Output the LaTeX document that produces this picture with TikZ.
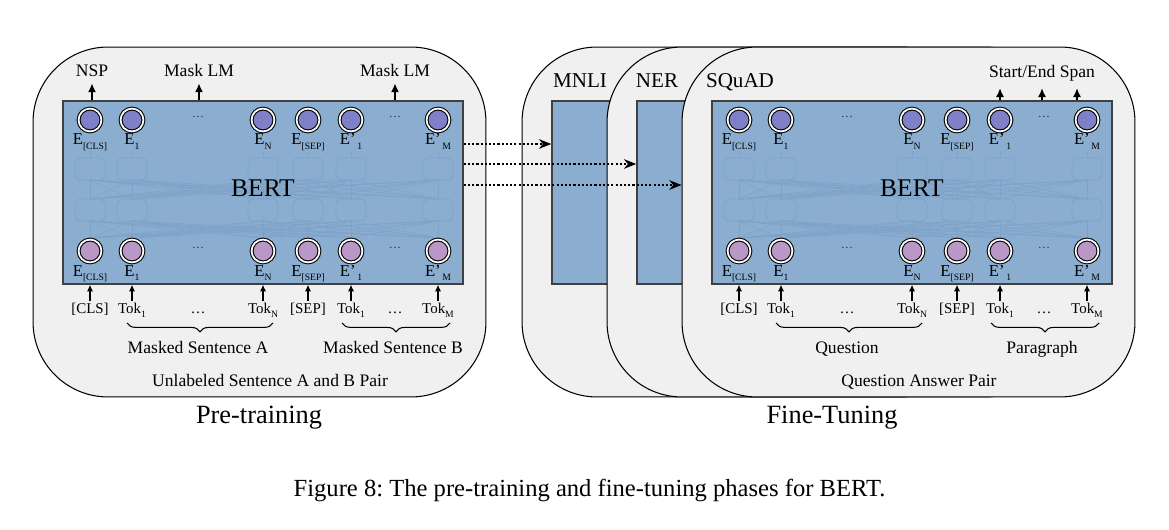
\documentclass[tikz,border=0pt]{standalone}
\usepackage{fontspec}
\setmainfont{Liberation Serif}
\usetikzlibrary{arrows.meta,decorations.pathreplacing,positioning}

\definecolor{panelgray}{RGB}{240,240,240}
\definecolor{bertblue}{RGB}{139,174,208}
\definecolor{faintblue}{RGB}{127,163,200}
\definecolor{outpurple}{RGB}{128,128,200}
\definecolor{inlilac}{RGB}{185,152,200}
\definecolor{boxedge}{RGB}{64,64,64}

% lowered small index, as in E_[CLS]
\newcommand{\lo}[1]{\raisebox{-0.6ex}{\fontsize{5.5}{6}\selectfont #1}}

\tikzset{
  panel/.style={draw=black, fill=panelgray, line width=0.6pt, rounded corners=1.5cm,
    minimum width=9.06cm, minimum height=7cm, inner sep=0pt},
  bertbox/.style={draw=boxedge, fill=bertblue, line width=0.9pt, minimum height=3.66cm, inner sep=0pt},
  ghost/.style={draw=faintblue, line width=0.5pt, rounded corners=3pt},
  ghostline/.style={draw=faintblue, line width=0.35pt},
  emb/.style={circle, draw=black, double=white, double distance=1pt, line width=0.6pt,
    minimum size=13pt, inner sep=0pt, fill=#1},
  elab/.style={font=\fontsize{9.5}{11}\selectfont, anchor=base, inner sep=1pt},
  toklab/.style={font=\fontsize{8.5}{10}\selectfont, anchor=base, inner sep=1pt},
  dotlab/.style={font=\fontsize{7}{8}\selectfont, text=black!80},
  lbl/.style={font=\fontsize{10}{12}\selectfont, anchor=base},
  ttl/.style={font=\fontsize{12}{14}\selectfont, anchor=base},
  outarrow/.style={-{Latex[length=5pt,width=4.6pt]}, line width=0.85pt},
  inarrow/.style={-{Latex[length=3.8pt,width=3.6pt]}, line width=0.65pt},
  xfer/.style={-{Stealth[length=7pt,width=5.5pt]}, line width=0.8pt, dash pattern=on 1.2pt off 1.2pt},
  brace/.style={decorate, decoration={brace, mirror, amplitude=5pt}, line width=0.6pt},
}

\begin{document}
\frenchspacing
\begin{tikzpicture}[x=0.02cm, y=-0.02cm]
  \useasboundingbox (0,0) rectangle (1169,530);

  % panels, back to front
  \node[panel] (pt-panel) at (259.5,222) {};
  \node[panel] (mnli-panel) at (748.5,222) {};
  \node[bertbox, minimum width=1.8cm] (mnli-box) at (597,192.5) {};
  \node[panel] (ner-panel) at (833.5,222) {};
  \node[bertbox, minimum width=1.8cm] (ner-box) at (682,192.5) {};
  \node[panel] (sq-panel) at (908.5,222) {};

  \node[ttl] (mnli) at (580,88) {MNLI};
  \node[ttl] (ner) at (657,88) {NER};
  \node[ttl] (squad) at (740,88) {SQuAD};

  % the two BERT blocks
  \foreach \p/\ox/\ba/\bb/\pair in {pt/63/{Masked Sentence A}/{Masked Sentence B}/{Unlabeled Sentence A and B Pair},
                                    ft/712/{Question}/{Paragraph}/{Question Answer Pair}} {
    \node[bertbox, minimum width=8cm] (\p-box) at (\ox+200,192.5) {};
    \foreach \a in {27,69,200,245,288,375} {
      \draw[ghostline] (\ox+\a,151) -- (\ox+\a,158);
      \draw[ghost] (\ox+\a-15,158) rectangle (\ox+\a+15,180);
      \draw[ghost] (\ox+\a-15,199) rectangle (\ox+\a+15,221);
      \foreach \b in {27,69,200,245,288,375} {
        \draw[ghostline] (\ox+\a,180) -- (\ox+\b,199);
        \draw[ghostline] (\ox+\a,221) -- (\ox+\b,238);
      }
    }
    \node[font=\fontsize{14.5}{16}\selectfont] (\p-name) at (\ox+200,188) {BERT};
    \foreach \c/\dx/\el/\tk in {1/27/{E\lo{[CLS]}}/{[CLS]}, 2/69/{E\lo{1}}/{Tok\lo{1}},
                                3/200/{E\lo{N}}/{Tok\lo{N}}, 4/245/{E\lo{[SEP]}}/{[SEP]},
                                5/288/{E'\lo{\,1}}/{Tok\lo{1}}, 6/375/{E'\lo{\,M}}/{Tok\lo{M}}} {
      \node[emb=outpurple] (\p-o\c) at (\ox+\dx,120) {};
      \node[elab] (\p-oe\c) at (\ox+\dx,145) {\el};
      \node[emb=inlilac] (\p-i\c) at (\ox+\dx,251) {};
      \node[elab] (\p-ie\c) at (\ox+\dx,276) {\el};
      \node[toklab] (\p-tk\c) at (\ox+\dx,313) {\tk};
      \draw[inarrow] (\p-tk\c) -- (\p-tk\c |- \p-box.south);
    }
    \foreach \dx in {135,332} {
      \node[dotlab] (\p-od\dx) at (\ox+\dx,117) {\dots};
      \node[dotlab] (\p-id\dx) at (\ox+\dx,248) {\dots};
      \node[toklab] (\p-td\dx) at (\ox+\dx,313) {\dots};
    }
    \draw[brace] (\ox+64,323) -- (\ox+210,323);
    \draw[brace] (\ox+279,323) -- (\ox+387,323);
    \node[lbl] (\p-sa) at (\ox+135,353) {\ba};
    \node[lbl] (\p-sb) at (\ox+330,353) {\bb};
    \node[lbl] (\p-pair) at (\ox+207,386) {\pair};
  }

  % outputs
  \node[lbl] (nsp) at (92,77) {NSP};
  \node[lbl] (mlm1) at (199,77) {Mask LM};
  \node[lbl] (mlm2) at (395,77) {Mask LM};
  \draw[outarrow] (pt-box.north -| nsp) -- (nsp);
  \draw[outarrow] (pt-box.north -| mlm1) -- (mlm1);
  \draw[outarrow] (pt-box.north -| mlm2) -- (mlm2);

  \node[lbl, inner ysep=3.5pt] (span) at (1042,78) {Start/End Span};
  \coordinate (spanr) at (1077,0);
  \draw[outarrow] (ft-box.north -| ft-o5) -- (ft-o5 |- span.south);
  \draw[outarrow] (ft-box.north -| span) -- (span);
  \draw[outarrow] (ft-box.north -| spanr) -- (spanr |- span.south);

  % transfer of the pre-trained weights
  \coordinate (tx1) at (0,144);
  \coordinate (tx2) at (0,164);
  \coordinate (tx3) at (0,185);
  \draw[xfer] (pt-box.east |- tx1) -- (mnli-box.west |- tx1);
  \draw[xfer] (pt-box.east |- tx2) -- (ner-box.west |- tx2);
  \draw[xfer] (pt-box.east |- tx3) -- (sq-panel.west |- tx3);

  \node[font=\fontsize{15}{18}\selectfont, anchor=base] (pt-title) at (259,423) {Pre-training};
  \node[font=\fontsize{15}{18}\selectfont, anchor=base] (ft-title) at (832,423) {Fine-Tuning};
  \node[font=\fontsize{14}{16}\selectfont, anchor=base] (caption) at (589.5,496)
    {Figure 8: The pre-training and fine-tuning phases for BERT.};
\end{tikzpicture}
\end{document}
